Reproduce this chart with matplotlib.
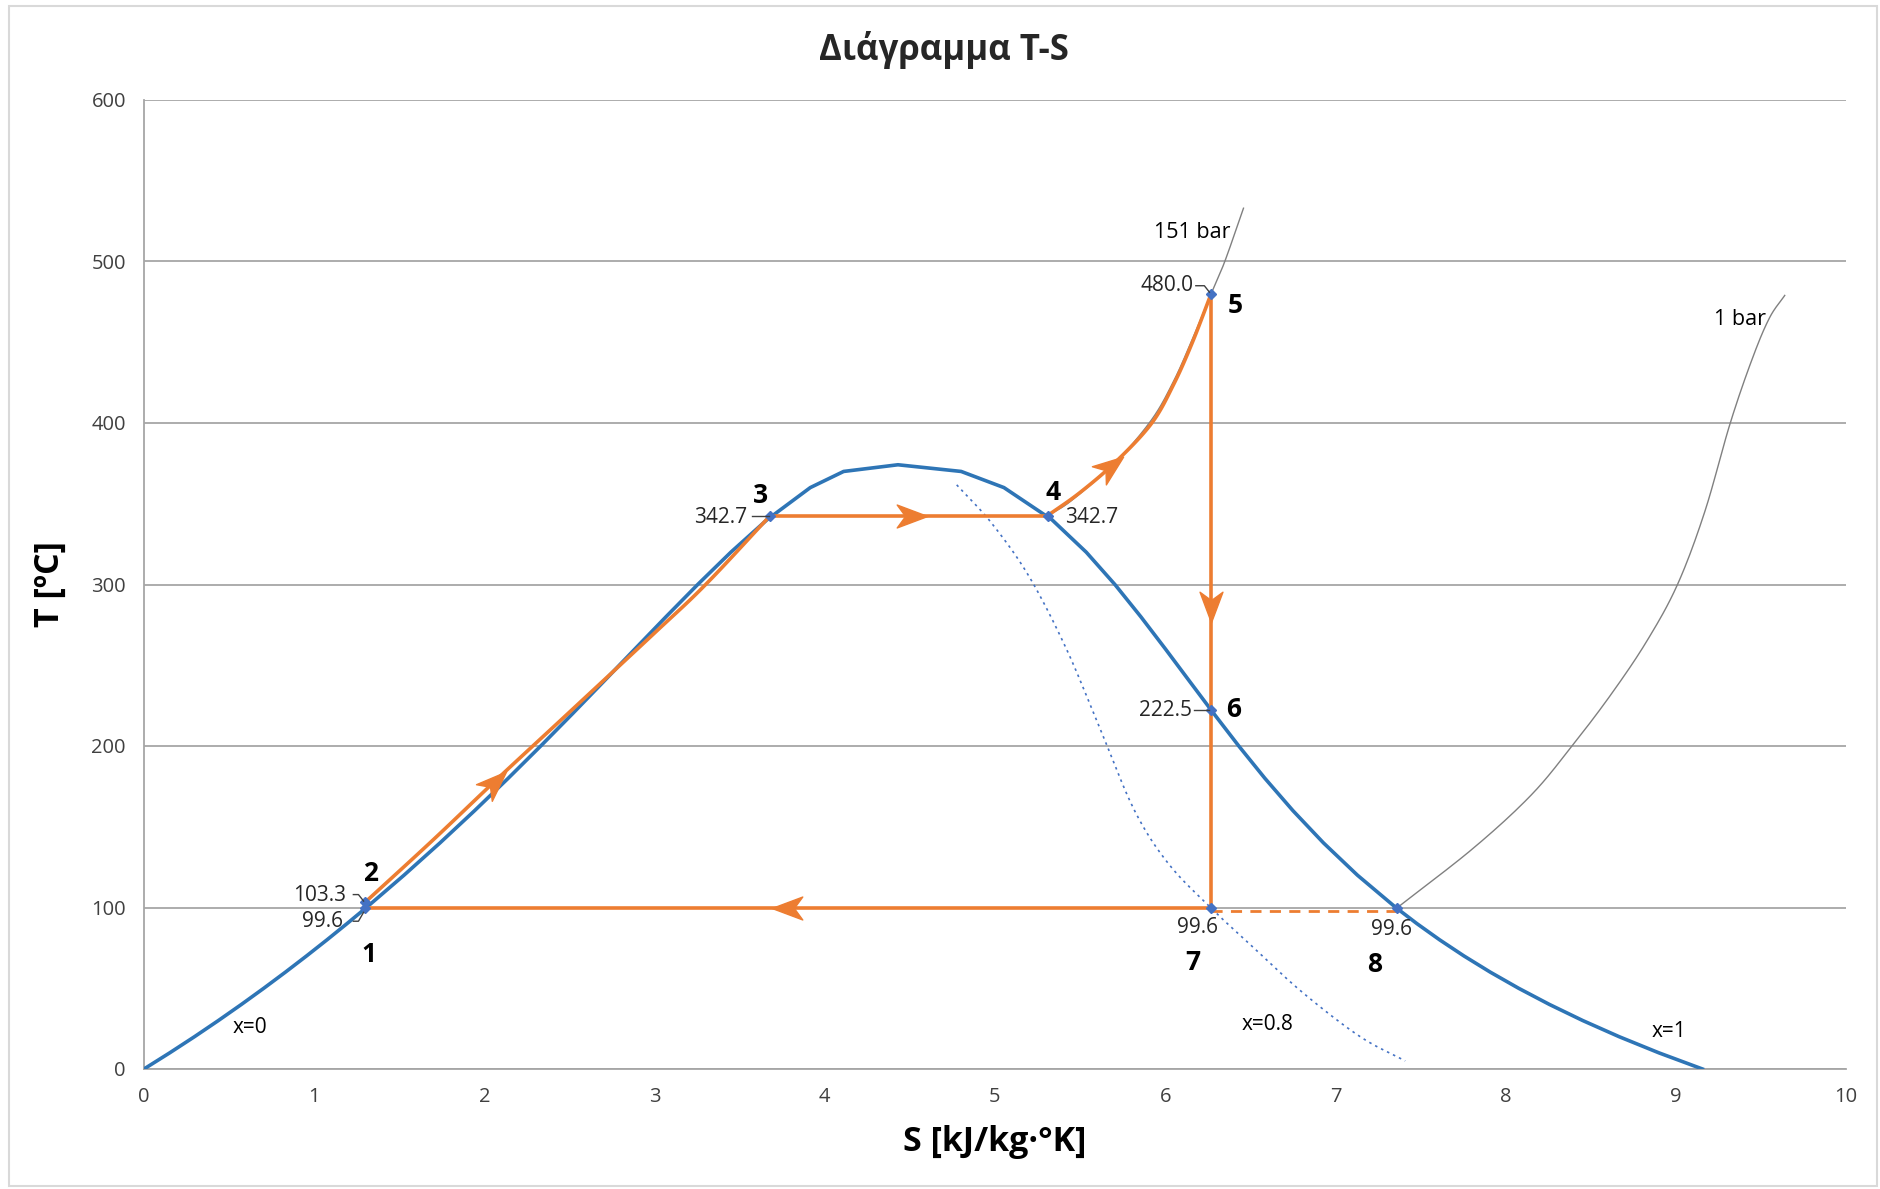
import numpy as np
import matplotlib
matplotlib.use("Agg")
import matplotlib.pyplot as plt
from matplotlib.patches import Rectangle
from matplotlib.path import Path
from matplotlib.markers import MarkerStyle

plt.rcParams['font.family'] = ['Open Sans', 'DejaVu Sans']

# ---- saturation dome (x=0 / x=1) ----
T_sat = [0.01, 10, 20, 30, 40, 50, 60, 70, 80, 90, 100, 120, 140, 160, 180,
         200, 220, 240, 260, 280, 300, 320, 340, 360, 370, 374.14]
s_liq = [0.0, 0.151, 0.2966, 0.4369, 0.5725, 0.7038, 0.8312, 0.9549, 1.0753,
         1.1925, 1.3069, 1.5276, 1.7391, 1.9427, 2.1396, 2.3309, 2.5178,
         2.7015, 2.8838, 3.0668, 3.2534, 3.448, 3.6594, 3.9147, 4.1106, 4.4298]
s_vap = [9.1562, 8.9008, 8.6672, 8.4533, 8.257, 8.0763, 7.9096, 7.7553,
         7.6122, 7.4791, 7.3549, 7.1296, 6.9299, 6.7502, 6.5857, 6.4323,
         6.2861, 6.1437, 6.0019, 5.8571, 5.7045, 5.5362, 5.3357, 5.0526,
         4.8013, 4.4298]

# ---- quality x=0.8 line ----
s_x08 = [4.775, 4.98, 5.20, 5.42, 5.62, 5.82, 6.02, 6.27, 6.50, 6.80, 7.14, 7.41]
T_x08 = [361.7, 338, 305, 260, 210, 160, 127, 99.6, 77, 48, 20.4, 5.0]

# ---- isobars ----
s_151 = [5.31, 5.45, 5.71, 5.92, 6.05, 6.16, 6.27, 6.35, 6.46]
T_151 = [342.7, 352, 376, 402, 426, 452, 480, 500, 533]
s_1bar = [7.36, 7.81, 8.15, 8.39, 8.62, 8.83, 9.01, 9.17, 9.32, 9.45, 9.55, 9.64]
T_1bar = [99.6, 136.7, 169.6, 200, 232, 265, 300, 345, 400, 440, 465, 479]

# ---- cycle state points 1..8 ----
s_pts = [1.30, 1.30, 3.68, 5.31, 6.27, 6.27, 6.27, 7.36]
T_pts = [99.6, 103.3, 342.7, 342.7, 480.0, 222.5, 99.6, 99.6]

# compressed liquid 2 -> 3 (151 bar)
s_pump = [1.30, 1.70, 2.08, 2.50, 3.00, 3.30, 3.68]
T_pump = [103.3, 142, 180, 221, 270, 300, 342.7]
# superheating 4 -> 5
s_sh = [5.31, 5.50, 5.71, 5.92, 6.05, 6.16, 6.27]
T_sh = [342.7, 357, 376, 399.8, 424, 450, 480.0]

blue = '#2E75B6'
orange = '#ED7D31'
grey = '#A6A6A6'
T_SCALE = 105.0  # degC per kJ/kgK on screen, for smoothing


def smooth(xs, ys, n=16):
    # Catmull-Rom through the points, like Excel's smoothed line
    p = np.column_stack([xs, np.asarray(ys) / T_SCALE])
    p = np.vstack([2 * p[0] - p[1], p, 2 * p[-1] - p[-2]])
    out = []
    t = np.linspace(0, 1, n, endpoint=False)[:, None]
    for i in range(1, len(p) - 2):
        p0, p1, p2, p3 = p[i - 1], p[i], p[i + 1], p[i + 2]
        seg = 0.5 * ((2 * p1) + (-p0 + p2) * t + (2 * p0 - 5 * p1 + 4 * p2 - p3) * t ** 2
                     + (-p0 + 3 * p1 - 3 * p2 + p3) * t ** 3)
        out.append(seg)
    out.append(p[-2][None, :])
    out = np.vstack(out)
    return out[:, 0], out[:, 1] * T_SCALE


fig = plt.figure(figsize=(18.81, 11.89), dpi=100)
ax = fig.add_axes([144 / 1881, 1 - 1069 / 1189, (1846 - 144) / 1881, (1069 - 100) / 1189])

# frame around the chart area
fig.patches.append(Rectangle((9 / 1881, 3 / 1189), 1868 / 1881, 1180 / 1189,
                             transform=fig.transFigure, fill=False,
                             edgecolor='#D9D9D9', lw=1.5))

ax.set_xlim(0, 10)
ax.set_ylim(0, 600)
ax.set_xticks(range(0, 11))
ax.set_yticks(range(0, 601, 100))
ax.yaxis.grid(True, color=grey, lw=1.3)
ax.set_axisbelow(True)
for sp in ['top', 'right']:
    ax.spines[sp].set_visible(False)
for sp in ['left', 'bottom']:
    ax.spines[sp].set_color(grey)
    ax.spines[sp].set_linewidth(1.3)
ax.tick_params(length=0, labelsize=14.5, pad=13, colors='#404040')

# dome
ax.plot(s_liq + s_vap[::-1], T_sat + T_sat[::-1], color=blue, lw=2.6, zorder=3)
ax.plot(*smooth(s_x08, T_x08), color='#4472C4', lw=1.2, ls=(0, (1.5, 2.5)), zorder=2)
ax.plot(*smooth(s_151, T_151), color='#808080', lw=1.0, zorder=2)
ax.plot(*smooth(s_1bar, T_1bar), color='#808080', lw=1.0, zorder=2)

# cycle
ax.plot(*smooth(s_pump, T_pump), color=orange, lw=2.6, zorder=4)
ax.plot(s_pts[2:4], T_pts[2:4], color=orange, lw=2.6, zorder=4)
ax.plot(*smooth(s_sh, T_sh), color=orange, lw=2.6, zorder=4)
ax.plot([s_pts[4], s_pts[6]], [T_pts[4], T_pts[6]], color=orange, lw=2.6, zorder=4)
ax.plot([s_pts[6], s_pts[0], s_pts[1]], [T_pts[6], T_pts[0], T_pts[1]],
        color=orange, lw=2.6, zorder=4)
ax.plot([s_pts[6], s_pts[7]], [T_pts[6] - 1.5, T_pts[7] - 1.5], color=orange,
        lw=2.0, ls=(0, (4, 3)), zorder=4)
ax.plot(s_pts, T_pts, ls='none', marker='D', ms=5.5, color='#4472C4', zorder=5)

# direction arrows: stealth heads (tail point, head point)
stealth = Path([(1.0, 0.0), (-1.0, 0.75), (-0.45, 0.0), (-1.0, -0.75), (1.0, 0.0)],
               [Path.MOVETO, Path.LINETO, Path.LINETO, Path.LINETO, Path.CLOSEPOLY])
arrows = [((1.98, 170), (2.14, 186)), ((4.40, 342.7), (4.62, 342.7)),
          ((5.60, 367), (5.76, 380)), ((6.27, 300), (6.27, 272)),
          ((3.90, 99.6), (3.65, 99.6))]
for tail, head in arrows:
    d0 = ax.transData.transform(tail)
    d1 = ax.transData.transform(head)
    ang = np.degrees(np.arctan2(d1[1] - d0[1], d1[0] - d0[0]))
    mk = MarkerStyle(stealth).rotated(deg=ang)
    ax.plot([(tail[0] + head[0]) / 2], [(tail[1] + head[1]) / 2], ls='none',
            marker=mk, ms=22, color=orange, mec=orange, zorder=6)

# point numbers
num_pos = [(1.32, 71), (1.33, 121), (3.62, 355), (5.34, 357),
           (6.41, 473), (6.40, 222.5), (6.16, 66), (7.23, 64.5)]
for i, (xs, ys) in enumerate(num_pos):
    ax.text(xs, ys, str(i + 1), fontsize=19, fontweight='bold',
            ha='center', va='center', zorder=7)

# value labels
val_pos = [(1.05, 91.3), (1.03, 107.7), (3.39, 341.6), (5.57, 341.6),
           (6.01, 485), (6.00, 222), (6.19, 87.6), (7.33, 86.1)]
for i, (xs, ys) in enumerate(val_pos):
    ax.text(xs, ys, f'{T_pts[i]:.1f}', fontsize=15, ha='center', va='center',
            color='#262626', zorder=7)
# small leader lines
leaders = [((1.23, 91.5), (1.29, 97)), ((1.23, 108), (1.29, 104)),
           ((3.57, 342.7), (3.67, 342.7)), ((6.18, 485), (6.26, 481)),
           ((6.17, 222.5), (6.26, 222.5))]
for (x0, y0), (x1, y1) in leaders:
    ax.plot([x0, x1 - 0.03, x1], [y0, y0, y1], color='#404040', lw=1.0, zorder=6)

# curve labels
ax.text(6.16, 518, '151 bar', fontsize=15.5, ha='center', va='center')
ax.text(9.38, 464, '1 bar', fontsize=15.5, ha='center', va='center')
ax.text(0.62, 26, 'x=0', fontsize=15, ha='center', va='center')
ax.text(6.60, 27.5, 'x=0.8', fontsize=15, ha='center', va='center')
ax.text(8.96, 23, 'x=1', fontsize=15, ha='center', va='center')

fig.text(944 / 1881, 1 - 50 / 1189, 'Διάγραμμα T-S', fontsize=25,
         fontweight='bold', ha='center', va='center', color='#262626')
fig.text(995 / 1881, 1 - 1142 / 1189, 'S [kJ/kg·°K]', fontsize=24.5,
         fontweight='bold', ha='center', va='center')
fig.text(50 / 1881, 1 - 584 / 1189, 'T [ºC]', fontsize=24.5, rotation=90,
         fontweight='bold', ha='center', va='center')

fig.savefig('out.png', dpi=100)
